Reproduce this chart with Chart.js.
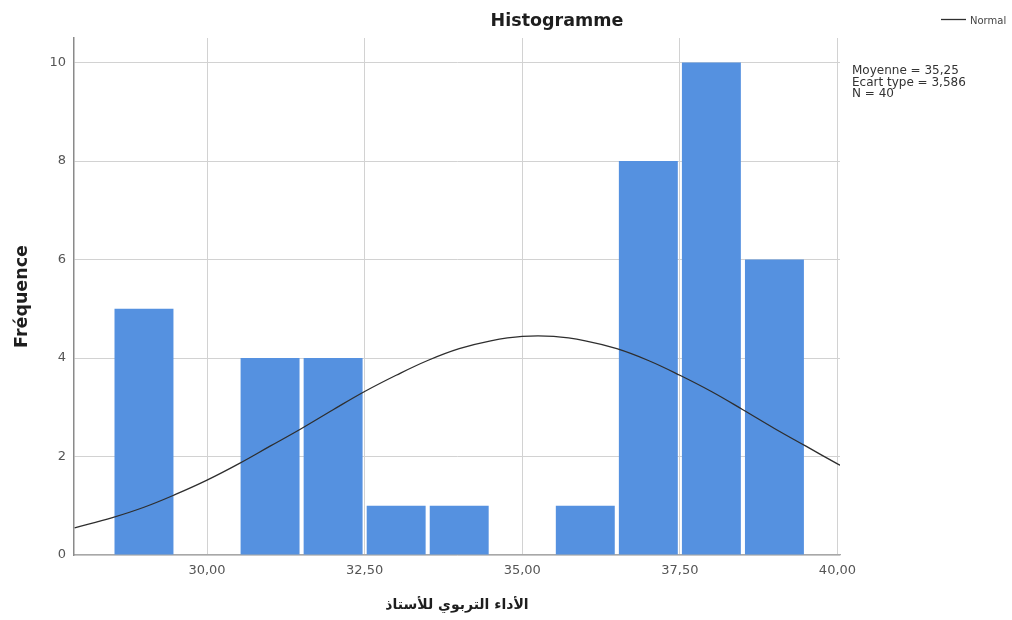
<!DOCTYPE html>
<html>
<head>
<meta charset="utf-8">
<title>Histogramme</title>
<script src="https://cdn.jsdelivr.net/npm/chart.js@4.4.1/dist/chart.umd.min.js"></script>
<style>
  html, body { margin: 0; padding: 0; background: #fff; }
  #wrap { width: 1012px; height: 620px; position: relative; }
</style>
</head>
<body>
<div id="wrap"><canvas id="histo"></canvas></div>
<script>
// bins of width 1, given by their centre, and how many cases fall in each
var binCenters = [29, 30, 31, 32, 33, 34, 35, 36, 37, 38, 39];
var binCounts  = [5, 0, 4, 4, 1, 1, 0, 1, 8, 10, 6];

// normal curve, sampled along the x axis
var normalX = [27.9, 28.5, 29, 29.5, 30, 30.5, 31, 31.5, 32, 32.5, 33, 33.5, 34,
               34.5, 35, 35.5, 36, 36.5, 37, 37.5, 38, 38.5, 39, 39.5, 40, 40.05];
var normalY = [0.55, 0.76, 0.97, 1.23, 1.52, 1.85, 2.21, 2.57, 2.95, 3.32, 3.65, 3.95, 4.19,
               4.35, 4.44, 4.44, 4.35, 4.19, 3.95, 3.65, 3.32, 2.95, 2.57, 2.21, 1.85, 1.82];

var xTicks = [30, 32.5, 35, 37.5, 40];
var yTicks = [0, 2, 4, 6, 8, 10];

var chartTitle = 'Histogramme';
var xTitle = 'الأداء التربوي للأستاذ';
var yTitle = 'Fréquence';
var legendLabel = 'Normal';
var statLines = ['Moyenne = 35,25', 'Ecart type = 3,586', 'N = 40'];

var FONT = "'DejaVu Sans', sans-serif";
var BAR_COLOR = '#5591e0';
var CURVE_COLOR = '#2e2e2e';

// title, legend and the summary box at the right
var annotations = {
  id: 'annotations',
  afterDraw: function(chart) {
    var ctx = chart.ctx;
    ctx.save();
    ctx.fillStyle = '#1e1e1e';
    ctx.font = 'bold 17.5px ' + FONT;
    ctx.textAlign = 'center';
    ctx.textBaseline = 'alphabetic';
    ctx.fillText(chartTitle, 557, 26);

    ctx.strokeStyle = CURVE_COLOR;
    ctx.lineWidth = 1.3;
    ctx.beginPath();
    ctx.moveTo(941, 19.5);
    ctx.lineTo(966, 19.5);
    ctx.stroke();
    ctx.fillStyle = '#444';
    ctx.font = '10px ' + FONT;
    ctx.textAlign = 'left';
    ctx.fillText(legendLabel, 970, 23.5);

    ctx.fillStyle = '#333';
    ctx.font = '12px ' + FONT;
    statLines.forEach(function(line, i) {
      ctx.fillText(line, 852, 74 + i * 11.7);
    });
    ctx.restore();
  }
};

function frNumber(v) {
  return v.toFixed(2).replace('.', ',');
}

var ctx = document.getElementById('histo').getContext('2d');
var histoChart = new Chart(ctx, {
  type: 'bar',
  data: {
    datasets: [{
      type: 'line',
      label: legendLabel,
      data: normalX.map(function(x, i) { return { x: x, y: normalY[i] }; }),
      borderColor: CURVE_COLOR,
      borderWidth: 1.3,
      pointRadius: 0,
      tension: 0.4,
      fill: false
    }, {
      type: 'bar',
      label: yTitle,
      data: binCenters.map(function(x, i) { return { x: x, y: binCounts[i] }; }),
      backgroundColor: BAR_COLOR,
      borderWidth: 0,
      barPercentage: 0.935,
      categoryPercentage: 1
    }]
  },
  options: {
    responsive: true,
    maintainAspectRatio: false,
    animation: false,
    layout: { padding: { top: 38, right: 172, bottom: 0, left: 0 } },
    plugins: {
      legend: { display: false },
      title: { display: false },
      tooltip: { enabled: false }
    },
    scales: {
      x: {
        type: 'linear',
        min: 27.89,
        max: 40.04,
        offset: false,
        afterBuildTicks: function(scale) {
          scale.ticks = xTicks.map(function(v) { return { value: v }; });
        },
        afterFit: function(scale) { scale.height = 65; },
        ticks: {
          padding: 8,
          color: '#555',
          font: { family: FONT, size: 13 },
          callback: function(v) { return frNumber(v); }
        },
        grid: { color: '#d2d2d2', lineWidth: 1, drawTicks: false, offset: false },
        border: { color: '#a8a8a8', width: 1.3 },
        title: {
          display: true,
          text: xTitle,
          color: '#1e1e1e',
          font: { family: FONT, size: 14, weight: 'bold' },
          padding: { top: 0, bottom: 6 }
        }
      },
      y: {
        min: 0,
        max: 10.5,
        afterBuildTicks: function(scale) {
          scale.ticks = yTicks.map(function(v) { return { value: v }; });
        },
        afterFit: function(scale) { scale.width = 74; },
        ticks: {
          padding: 8,
          color: '#555',
          font: { family: FONT, size: 13 }
        },
        grid: { color: '#d2d2d2', lineWidth: 1, drawTicks: false },
        border: { color: '#8a8a8a', width: 1.5 },
        title: {
          display: true,
          text: yTitle,
          color: '#1e1e1e',
          font: { family: FONT, size: 17.5, weight: 'bold' },
          padding: { top: 12, bottom: 0 }
        }
      }
    }
  },
  plugins: [annotations]
});
</script>
</body>
</html>
